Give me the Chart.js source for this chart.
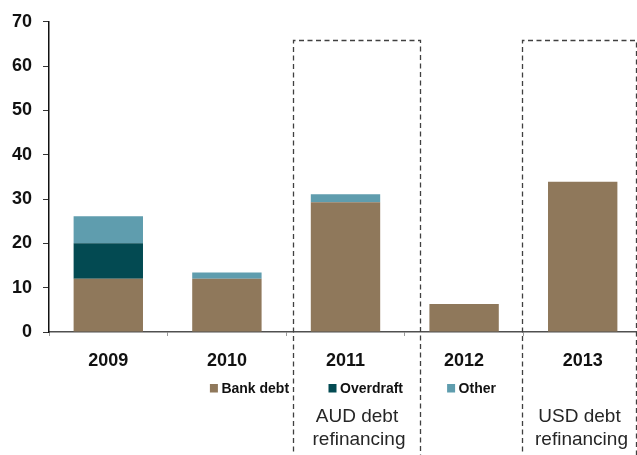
<!DOCTYPE html>
<html>
<head>
<meta charset="utf-8">
<script src="https://cdn.jsdelivr.net/npm/chart.js@4"></script>
<style>
  html, body { margin: 0; padding: 0; background: #ffffff; overflow: hidden; }
  #wrap { width: 650px; height: 455px; }
</style>
</head>
<body>
<div id="wrap"><canvas id="c" width="650" height="455"></canvas></div>
<script>
// Debt maturity profile by year
const years = ['2009', '2010', '2011', '2012', '2013'];
const bankDebt = [12, 12, 29.3, 6.3, 33.9];
const overdraft = [8, 0, 0, 0, 0];
const other = [6.1, 1.4, 1.8, 0, 0];
const seriesNames = ['Bank debt', 'Overdraft', 'Other'];
const yTicks = [0, 10, 20, 30, 40, 50, 60, 70];
const refinancingNotes = [
  { year: '2011', lines: ['AUD debt', 'refinancing'] },
  { year: '2013', lines: ['USD debt', 'refinancing'] }
];

const colors = ['#8f785b', '#034a52', '#5f9dae'];
const FONT = '"Liberation Sans", Arial, sans-serif';

// Dashed boxes around the refinancing years, with their captions
const refinancingBoxes = {
  id: 'refinancingBoxes',
  afterDatasetsDraw(chart) {
    const { ctx, scales: { x, y } } = chart;
    // left/right edges as fractional category offsets from the year's centre
    const edges = { '2011': [-0.443, 0.629], '2013': [-0.508, 0.446] };
    ctx.save();
    refinancingNotes.forEach(note => {
      const i = years.indexOf(note.year);
      const [l, r] = edges[note.year];
      const left = Math.round(x.getPixelForValue(i + l)) + 0.5;
      const right = Math.round(x.getPixelForValue(i + r)) + 0.5;
      const top = Math.round(y.getPixelForValue(66)) + 0.5;
      const bottom = chart.height + 5;
      ctx.strokeStyle = '#404040';
      ctx.lineWidth = 1.3;
      ctx.setLineDash([5, 3.5]);
      ctx.beginPath();
      ctx.moveTo(left, bottom);
      ctx.lineTo(left, top);
      ctx.lineTo(right, top);
      ctx.lineTo(right, bottom);
      ctx.stroke();
      ctx.setLineDash([]);
      ctx.fillStyle = '#262626';
      ctx.font = '19px ' + FONT;
      ctx.textAlign = 'center';
      ctx.textBaseline = 'alphabetic';
      const cx = (left + right) / 2;
      note.lines.forEach((t, k) => {
        ctx.fillText(t, cx + k * 2, y.bottom + 90 + k * 22.5);
      });
    });
    ctx.restore();
  }
};

// Legend entries placed under the 2010–2012 columns
const inlineLegend = {
  id: 'inlineLegend',
  afterDraw(chart) {
    const { ctx, scales: { x, y } } = chart;
    ctx.save();
    ctx.font = 'bold 14px ' + FONT;
    ctx.textBaseline = 'middle';
    ctx.textAlign = 'left';
    const cy = y.bottom + 56.5;
    chart.data.datasets.forEach((ds, k) => {
      const sx = x.getPixelForValue(k + 1) - 17;
      ctx.fillStyle = ds.backgroundColor;
      ctx.fillRect(sx, cy - 4.5, 8, 8.5);
      ctx.fillStyle = '#111111';
      ctx.fillText(ds.label, sx + 11.5, cy + 0.5);
    });
    ctx.restore();
  }
};

new Chart(document.getElementById('c'), {
  type: 'bar',
  data: {
    labels: years,
    datasets: [
      { label: seriesNames[0], data: bankDebt, backgroundColor: colors[0] },
      { label: seriesNames[1], data: overdraft, backgroundColor: colors[1] },
      { label: seriesNames[2], data: other, backgroundColor: colors[2] }
    ]
  },
  options: {
    responsive: false,
    animation: false,
    devicePixelRatio: 1,
    layout: { padding: { top: 20, right: 8, left: 0, bottom: 0 } },
    datasets: {
      bar: { categoryPercentage: 1, barPercentage: 0.585, borderWidth: 0 }
    },
    plugins: {
      legend: { display: false },
      tooltip: { enabled: false }
    },
    scales: {
      x: {
        stacked: true,
        afterFit(s) { s.height = 123; },
        grid: {
          offset: true,
          drawOnChartArea: false,
          drawTicks: true,
          tickLength: 4,
          color: '#9a9a9a',
          lineWidth: 1
        },
        border: { display: true, color: '#505050', width: 1.5 },
        ticks: {
          color: '#111111',
          font: { family: FONT, size: 18, weight: 'bold' },
          padding: 14,
          maxRotation: 0
        }
      },
      y: {
        stacked: true,
        min: 0,
        max: 70,
        afterFit(s) { s.width = 49; },
        afterBuildTicks(s) { s.ticks = yTicks.map(v => ({ value: v })); },
        grid: {
          drawOnChartArea: false,
          drawTicks: true,
          tickLength: 6,
          color: '#333333',
          lineWidth: 1
        },
        border: { display: true, color: '#111111', width: 1.5 },
        ticks: {
          color: '#111111',
          font: { family: FONT, size: 18, weight: 'bold' },
          padding: 11
        }
      }
    }
  },
  plugins: [refinancingBoxes, inlineLegend]
});
</script>
</body>
</html>
